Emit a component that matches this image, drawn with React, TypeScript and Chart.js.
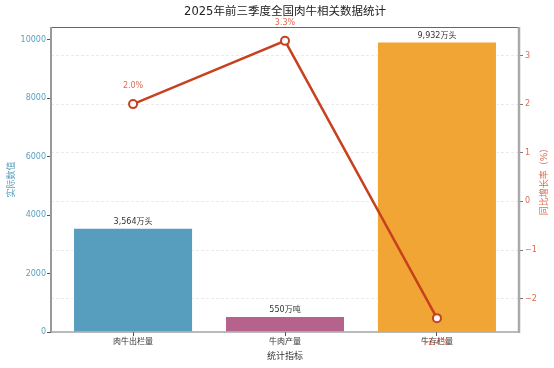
import React, { useEffect, useRef } from "react";
import { Chart, registerables } from "chart.js";

Chart.register(...registerables);

const categories = ["肉牛出栏量", "牛肉产量", "牛存栏量"];
const actualValues = [3564, 550, 9932];
const valueLabels = ["3,564万头", "550万吨", "9,932万头"];
const growthRates = [2.0, 3.3, -2.4];
const growthLabels = ["2.0%", "3.3%", "-2.4%"];
const barColors = ["#579DBE", "#B5628D", "#F1A534"];
const leftTicks = [0, 2000, 4000, 6000, 8000, 10000];
const rightTicks = [-2, -1, 0, 1, 2, 3];

const FONT = '"DejaVu Sans", "Noto Sans CJK SC", sans-serif';

export default function App() {
  const ref = useRef<HTMLCanvasElement | null>(null);

  useEffect(() => {
    document.body.style.margin = "0";
    const canvas = ref.current!;
    const overlay = {
      id: "overlay",
      afterDatasetsDraw(chart: any) {
        const ctx = chart.ctx;
        ctx.save();
        const barMeta = chart.getDatasetMeta(0);
        ctx.font = `8px ${FONT}`;
        ctx.fillStyle = "#333333";
        ctx.textAlign = "center";
        ctx.textBaseline = "bottom";
        barMeta.data.forEach((el: any, i: number) => {
          ctx.fillText(valueLabels[i], el.x, el.y - 2);
        });
        ctx.restore();
      },
      afterDraw(chart: any) {
        const ctx = chart.ctx;
        const a = chart.chartArea;
        ctx.save();
        ctx.lineCap = "butt";
        ctx.strokeStyle = "#666666";
        ctx.lineWidth = 1;
        ctx.beginPath();
        ctx.moveTo(a.left, a.top + 0.5);
        ctx.lineTo(a.right, a.top + 0.5);
        ctx.stroke();
        ctx.strokeStyle = "#777777";
        ctx.lineWidth = 1.2;
        ctx.beginPath();
        ctx.moveTo(a.left, a.bottom);
        ctx.lineTo(a.right, a.bottom);
        ctx.stroke();
        ctx.strokeStyle = "#999999";
        ctx.lineWidth = 2;
        ctx.beginPath();
        ctx.moveTo(a.left, a.top);
        ctx.lineTo(a.left, a.bottom);
        ctx.stroke();
        ctx.strokeStyle = "#AAAAAA";
        ctx.lineWidth = 2.5;
        ctx.beginPath();
        ctx.moveTo(a.right, a.top);
        ctx.lineTo(a.right, a.bottom + 1);
        ctx.stroke();
        // line labels
        const lineMeta = chart.getDatasetMeta(1);
        ctx.font = `8px ${FONT}`;
        ctx.fillStyle = "rgba(222,90,60,0.9)";
        ctx.textAlign = "center";
        ctx.textBaseline = "middle";
        lineMeta.data.forEach((el: any, i: number) => {
          const dy = growthRates[i] < 0 ? 25 : -18;
          ctx.fillText(growthLabels[i], el.x, el.y + dy);
        });
        // title
        ctx.fillStyle = "#222222";
        ctx.font = `11.5px ${FONT}`;
        ctx.fillText("2025年前三季度全国肉牛相关数据统计", (a.left + a.right) / 2, 12);
        ctx.fillStyle = "#333333";
        ctx.font = `9px ${FONT}`;
        ctx.fillText("统计指标", (a.left + a.right) / 2, 357);
        const midY = (a.top + a.bottom) / 2;
        ctx.save();
        ctx.translate(12, midY);
        ctx.rotate(-Math.PI / 2);
        ctx.fillStyle = "#5B9FC0";
        ctx.fillText("实际数值", 0, 0);
        ctx.restore();
        ctx.save();
        ctx.translate(545, midY);
        ctx.rotate(-Math.PI / 2);
        ctx.fillStyle = "#DE6A4E";
        ctx.fillText("同比增长率（%）", 0, 0);
        ctx.restore();
        ctx.restore();
      },
    };

    const chart = new Chart(canvas, {
      type: "bar",
      data: {
        datasets: [
          {
            type: "bar",
            label: "实际数值",
            data: actualValues.map((v, i) => ({ x: i, y: v })),
            backgroundColor: barColors,
            borderColor: "rgba(255,255,255,0.85)",
            borderWidth: 1,
            barPercentage: 0.79,
            categoryPercentage: 1,
            yAxisID: "y",
            order: 2,
          } as any,
          {
            type: "line",
            label: "同比增长率",
            data: growthRates.map((v, i) => ({ x: i, y: v })),
            borderColor: "#C8411E",
            borderWidth: 2.5,
            pointRadius: 4,
            pointBackgroundColor: "#ffffff",
            pointBorderColor: "#C8411E",
            pointBorderWidth: 2,
            yAxisID: "y1",
            order: 1,
          } as any,
        ],
      },
      options: {
        responsive: false,
        animation: false,
        devicePixelRatio: 1,
        layout: { padding: { top: 27, left: 0, right: 0, bottom: 0 } },
        plugins: {
          legend: { display: false },
          title: { display: false },
          tooltip: { enabled: false },
        },
        scales: {
          x: {
            type: "linear",
            min: -0.54,
            max: 2.54,
            offset: false,
            afterBuildTicks: (s: any) => {
              s.ticks = categories.map((_, i) => ({ value: i }));
            },
            afterFit: (s: any) => {
              s.height = 36;
            },
            ticks: {
              callback: (v: any) => categories[Math.round(Number(v))] ?? "",
              color: "#333333",
              font: { family: FONT, size: 8 },
              padding: 1,
              maxRotation: 0,
              autoSkip: false,
            },
            grid: {
              offset: false,
              drawOnChartArea: false,
              drawTicks: true,
              tickLength: 4,
              tickColor: "#555555",
            },
            border: { display: false },
          },
          y: {
            type: "linear",
            position: "left",
            min: 0,
            max: 10428.6,
            afterBuildTicks: (s: any) => {
              s.ticks = leftTicks.map((v) => ({ value: v }));
            },
            afterFit: (s: any) => {
              s.width = 51;
            },
            ticks: {
              color: "#5B9FC0",
              font: { family: FONT, size: 8 },
              padding: 1,
              callback: (v: any) => String(v),
            },
            grid: {
              drawOnChartArea: false,
              drawTicks: true,
              tickLength: 4,
              tickColor: "#555555",
            },
            border: { display: false },
          },
          y1: {
            type: "linear",
            position: "right",
            min: -2.685,
            max: 3.585,
            afterBuildTicks: (s: any) => {
              s.ticks = rightTicks.map((v) => ({ value: v }));
            },
            afterFit: (s: any) => {
              s.width = 35;
            },
            ticks: {
              color: "#DE6A4E",
              font: { family: FONT, size: 8 },
              padding: 2,
              callback: (v: any) => (v < 0 ? "\u2212" + Math.abs(v) : String(v)),
            },
            grid: {
              drawOnChartArea: true,
              color: "#E4E4E4",
              lineWidth: 0.8,
              borderDash: [3, 2],
              drawTicks: true,
              tickLength: 4,
              tickColor: "#555555",
              tickBorderDash: [],
            } as any,
            border: { display: false, dash: [3, 2] },
          },
        },
      } as any,
      plugins: [overlay],
    });
    return () => chart.destroy();
  }, []);

  return <canvas ref={ref} width={554} height={368} style={{ width: 554, height: 368, display: "block" }} />;
}
